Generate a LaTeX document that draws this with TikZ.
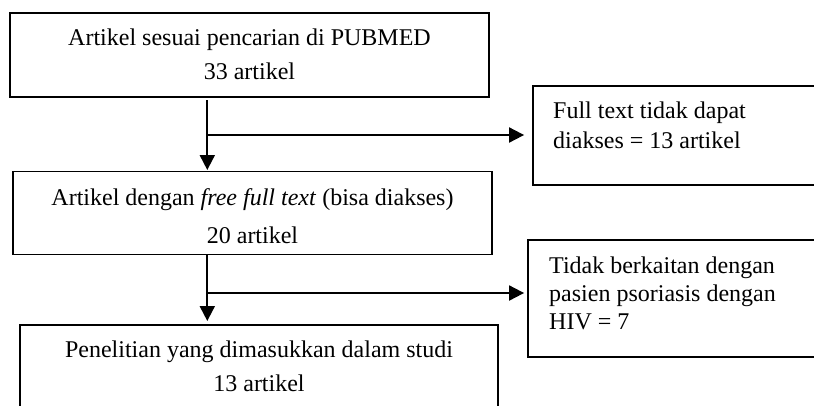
\documentclass[tikz,border=0pt]{standalone}
\usepackage{fontspec}
\setmainfont{Liberation Serif}
\usetikzlibrary{arrows.meta}
\tikzset{
  box/.style={draw, line width=1.8pt, inner sep=0pt, rectangle},
  txt/.style={inner sep=0pt},
  arr/.style={line width=1.9pt, -{Triangle[length=15pt,width=15pt]}}
}
\begin{document}
\begin{tikzpicture}[x=1pt,y=-1pt]
\useasboundingbox (0,0) rectangle (814,405);
\begin{scope}
\clip (0,0) rectangle (814,405);
% boxes
\node[box, minimum width=479pt, minimum height=84pt] (b1) at (249.5,55) {};
\node[box, minimum width=479pt, minimum height=83pt] (b2) at (252.5,213) {};
\node[box, minimum width=478pt, minimum height=120pt] (b3) at (259,385) {};
\node[box, minimum width=300pt, minimum height=99pt] (r1) at (683,135.5) {};
\node[box, minimum width=300pt, minimum height=117pt] (r2) at (678,298.5) {};
% texts
\node[txt, anchor=north, align=center, font=\fontsize{24}{34}\selectfont] (t1) at (249.5,28.6)
  {Artikel sesuai pencarian di PUBMED\\33 artikel};
\node[txt, anchor=north, align=center, font=\fontsize{24}{38}\selectfont] (t2) at (252.5,188.6)
  {Artikel dengan \textit{free full text} (bisa diakses)\\20 artikel};
\node[txt, anchor=north, align=center, font=\fontsize{24}{34}\selectfont] (t3) at (259,340.6)
  {Penelitian yang dimasukkan dalam studi\\13 artikel};
\node[txt, anchor=north west, align=left, font=\fontsize{24}{30}\selectfont] (tr1) at (553,101.6)
  {Full text tidak dapat\\diakses = 13 artikel};
\node[txt, anchor=north west, align=left, font=\fontsize{24}{28}\selectfont] (tr2) at (549,256.6)
  {Tidak berkaitan dengan\\pasien psoriasis dengan\\HIV = 7};
% connectors
\coordinate (s1) at (207.3,100);
\coordinate (e1) at (207.3,170);
\coordinate (h1) at (207.3,135);
\coordinate (s2) at (207.3,254.5);
\coordinate (e2) at (207.3,321);
\coordinate (h2) at (207.3,293);
\draw[arr] (s1) -- (e1);
\draw[arr] (h1) -- ([xshift=-8pt]r1.west |- h1);
\draw[arr] (s2) -- (e2);
\draw[arr] (h2) -- ([xshift=-3pt]r2.west |- h2);
\end{scope}
\end{tikzpicture}
\end{document}
